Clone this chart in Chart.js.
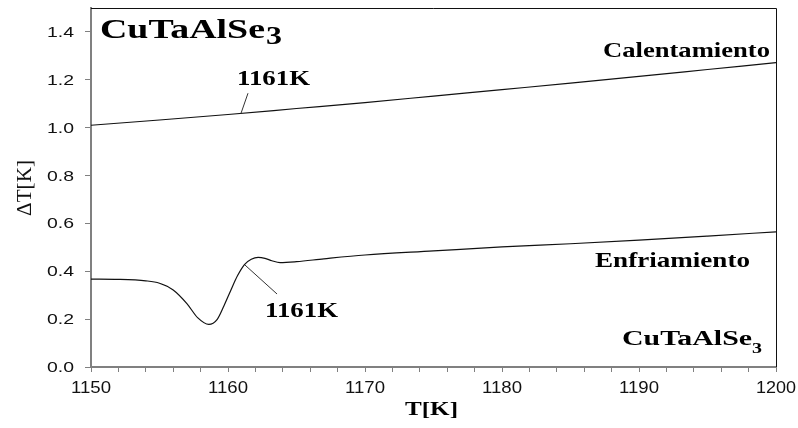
<!DOCTYPE html>
<html>
<head>
<meta charset="utf-8">
<script src="https://cdn.jsdelivr.net/npm/chart.js@4.4.1/dist/chart.umd.min.js"></script>
<style>
  html, body { margin: 0; padding: 0; background: #fff; }
  #wrap { width: 798px; height: 428px; position: relative; }
</style>
</head>
<body>
<div id="wrap"><canvas id="dtaChart"></canvas></div>
<script>
// heating curve (Calentamiento)
const heatT = [1150, 1155, 1160, 1165, 1170, 1175, 1180, 1185, 1190, 1195, 1200];
const heatDT = [1.010, 1.032, 1.055, 1.080, 1.105, 1.132, 1.159, 1.186, 1.214, 1.243, 1.272];

// cooling curve (Enfriamiento)
const coolT = [1150, 1152, 1154, 1155, 1156, 1157, 1157.8, 1158.6, 1159.2, 1159.7, 1160.2, 1160.7,
  1161.2, 1161.7, 1162.2, 1162.7, 1163.2, 1163.8, 1165, 1167, 1170, 1175, 1180, 1185, 1190, 1195, 1200];
const coolDT = [0.367, 0.366, 0.360, 0.350, 0.322, 0.265, 0.205, 0.178, 0.198, 0.255, 0.320, 0.382,
  0.428, 0.450, 0.458, 0.454, 0.444, 0.436, 0.440, 0.452, 0.468, 0.485, 0.502, 0.515, 0.530, 0.547, 0.565];

const xTickStep = 2;
const xLabelEvery = 10;
const yTicks = [0, 0.2, 0.4, 0.6, 0.8, 1.0, 1.2, 1.4];

// leader lines from the 1161K labels to the curves, in data units
const leaders = [
  { from: [1160.95, 1.060], to: [1161.46, 1.144] },
  { from: [1161.24, 0.426], to: [1163.58, 0.305] }
];

const SERIF = '"Liberation Serif", "Times New Roman", serif';
const SANS = '"Liberation Sans", Arial, sans-serif';

// figure labels: text, left x, baseline y, target width, font
const labels = [
  { text: 'CuTaAlSe', x: 100, y: 38, w: 165, font: 'bold 28px ' + SERIF },
  { text: '3', x: 266, y: 44, w: 16, font: 'bold 25px ' + SERIF },
  { text: '1161K', x: 237, y: 85, w: 73, font: 'bold 20px ' + SERIF },
  { text: 'Calentamiento', x: 603, y: 57, w: 167, font: 'bold 21px ' + SERIF },
  { text: 'Enfriamiento', x: 595, y: 267, w: 155, font: 'bold 21px ' + SERIF },
  { text: '1161K', x: 265, y: 317, w: 73, font: 'bold 20px ' + SERIF },
  { text: 'CuTaAlSe', x: 622, y: 345, w: 130, font: 'bold 20px ' + SERIF },
  { text: '3', x: 752, y: 353, w: 10, font: 'bold 14px ' + SERIF },
  { text: 'T[K]', x: 405, y: 415, w: 53, font: 'bold 18px ' + SERIF }
];

// draw text squeezed/stretched to a given width
function fitText(ctx, text, x, y, w, font) {
  ctx.save();
  ctx.font = font;
  const m = ctx.measureText(text).width;
  ctx.translate(x, y);
  ctx.scale(w / m, 1);
  ctx.fillText(text, 0, 0);
  ctx.restore();
}

const decorPlugin = {
  id: 'decor',
  afterDraw(chart) {
    const { ctx, chartArea, scales } = chart;
    const xs = scales.x, ys = scales.y;
    ctx.save();

    // top and right frame
    ctx.strokeStyle = '#111';
    ctx.lineWidth = 1;
    ctx.beginPath();
    ctx.moveTo(chartArea.left, chartArea.top + 0.5);
    ctx.lineTo(chartArea.right + 0.5, chartArea.top + 0.5);
    ctx.lineTo(chartArea.right + 0.5, chartArea.bottom);
    ctx.stroke();

    // tick labels, stretched like the original
    ctx.fillStyle = '#111';
    ctx.textBaseline = 'alphabetic';
    xs.ticks.forEach(t => {
      if (Math.abs(t.value % xLabelEvery) > 1e-6) return;
      const px = xs.getPixelForValue(t.value);
      fitText(ctx, String(t.value), px - 20, 393, 40, '16px ' + SANS);
    });
    ys.ticks.forEach(t => {
      const py = ys.getPixelForValue(t.value);
      fitText(ctx, t.value.toFixed(1), 47, py + 5, 27, '15px ' + SANS);
    });

    // y-axis title
    ctx.save();
    ctx.translate(31, 188);
    ctx.rotate(-Math.PI / 2);
    ctx.fillStyle = '#111';
    fitText(ctx, 'ΔT[K]', -28, 0, 56, '20px ' + SERIF);
    ctx.restore();

    // leader lines
    ctx.strokeStyle = '#333';
    ctx.lineWidth = 1;
    leaders.forEach(l => {
      ctx.beginPath();
      ctx.moveTo(xs.getPixelForValue(l.from[0]), ys.getPixelForValue(l.from[1]));
      ctx.lineTo(xs.getPixelForValue(l.to[0]), ys.getPixelForValue(l.to[1]));
      ctx.stroke();
    });

    // annotations
    ctx.fillStyle = '#000';
    labels.forEach(l => fitText(ctx, l.text, l.x, l.y, l.w, l.font));
    ctx.restore();
  }
};

const toPoints = (xArr, yArr) => xArr.map((x, i) => ({ x: x, y: yArr[i] }));

new Chart(document.getElementById('dtaChart'), {
  type: 'line',
  data: {
    datasets: [
      {
        label: 'Calentamiento',
        data: toPoints(heatT, heatDT),
        borderColor: '#111',
        borderWidth: 1.2,
        pointRadius: 0,
        cubicInterpolationMode: 'monotone',
        fill: false
      },
      {
        label: 'Enfriamiento',
        data: toPoints(coolT, coolDT),
        borderColor: '#111',
        borderWidth: 1.2,
        pointRadius: 0,
        cubicInterpolationMode: 'monotone',
        fill: false
      }
    ]
  },
  options: {
    responsive: true,
    maintainAspectRatio: false,
    animation: false,
    layout: { padding: { top: 8, right: 22, left: 0, bottom: 0 } },
    plugins: {
      legend: { display: false },
      tooltip: { enabled: false }
    },
    scales: {
      x: {
        type: 'linear',
        min: 1150,
        max: 1200,
        ticks: { stepSize: xTickStep, display: false },
        grid: { drawOnChartArea: false, drawTicks: true, tickLength: 5, color: '#808080' },
        border: { color: '#808080', width: 2 },
        afterFit(scale) { scale.height = 61; }
      },
      y: {
        min: 0,
        max: 1.5,
        ticks: { stepSize: 0.2, display: false },
        afterBuildTicks(scale) {
          scale.ticks = yTicks.map(v => ({ value: v }));
        },
        grid: { drawOnChartArea: false, drawTicks: true, tickLength: 6, color: '#808080' },
        border: { color: '#808080', width: 2 },
        afterFit(scale) { scale.width = 91; }
      }
    }
  },
  plugins: [decorPlugin]
});
</script>
</body>
</html>
